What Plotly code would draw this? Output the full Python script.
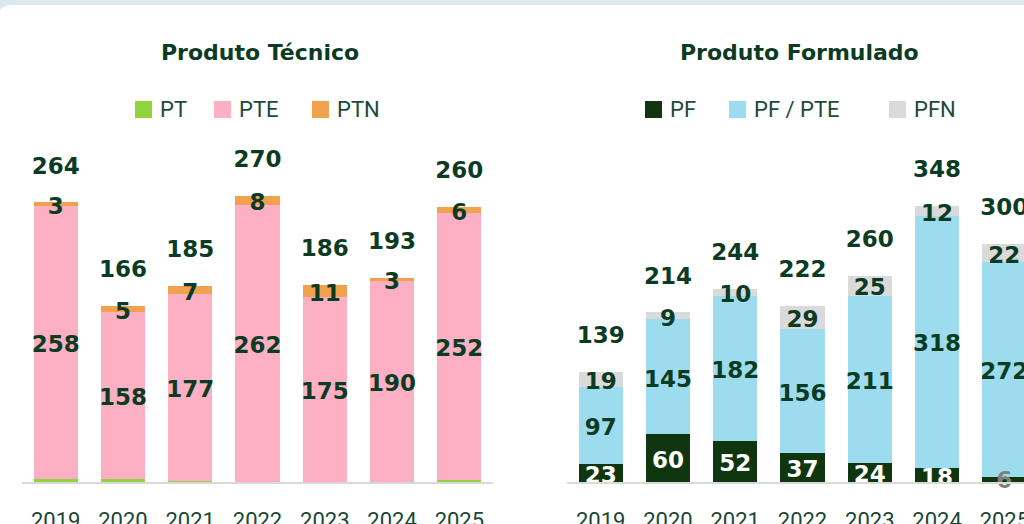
import plotly.graph_objects as go

# ---------------- data ----------------
years = ["2019", "2020", "2021", "2022", "2023", "2024", "2025"]

# Produto Técnico
pt = [3, 3, 1, 0, 0, 0, 2]
pte = [258, 158, 177, 262, 175, 190, 252]
ptn = [3, 5, 7, 8, 11, 3, 6]
pt_total = [264, 166, 185, 270, 186, 193, 260]

# Produto Formulado
pf = [23, 60, 52, 37, 24, 18, 6]
pf_pte = [97, 145, 182, 156, 211, 318, 272]
pfn = [19, 9, 10, 29, 25, 12, 22]
pf_total = [139, 214, 244, 222, 260, 348, 300]

titles = ["Produto Técnico", "Produto Formulado"]
left_names = ["PT", "PTE", "PTN"]
right_names = ["PF", "PF / PTE", "PFN"]

# ---------------- style ----------------
W, H = 1024, 524
BASE = 482                    # pixel row of the axis line
SCALE_L = 1.059               # px per unit, left chart
SCALE_R = 0.793               # px per unit, right chart
STEP = (493 - 22) / 7         # px per category
TINY_PX = 6                   # segments thinner than this get the label below

C_PT, C_PTE, C_PTN = "#8fd33f", "#fdafc4", "#f0a24e"
C_PF, C_PFPTE, C_PFN = "#10360f", "#9ddcee", "#dadada"
DARK = "#0c3b24"
LEG_TXT = "#21493a"
AXIS = "#d9d9d9"
STRIP = "#dce8ef"
GREY_LBL = "#7f7f7f"

LBL_FONT = dict(family="DejaVu Sans", size=23, color=DARK, weight="bold")

fig = go.Figure()
annotations = []


def add_bars(xa, ya, series, colors, names):
    for vals, col, nm in zip(series, colors, names):
        fig.add_trace(go.Bar(
            x=years, y=vals, name=nm, marker=dict(color=col, line=dict(width=0)),
            xaxis=xa, yaxis=ya, showlegend=False, hoverinfo="skip"))


def add_labels(xa, ya, series, show, colors, totals, scale, below_small):
    cum = [0] * len(years)
    for idx, (vals, sh, col) in enumerate(zip(series, show, colors)):
        mids = [c + v / 2 - 4 / scale for c, v in zip(cum, vals)]
        cum = [c + v for c, v in zip(cum, vals)]
        if not sh:
            continue
        texts, small_x, small_t = [], [], []
        for yr, v in zip(years, vals):
            if below_small and idx == 0 and v * scale < TINY_PX:
                texts.append("")
                small_x.append(yr)
                small_t.append(str(v))
            else:
                texts.append(str(v))
        fig.add_trace(go.Scatter(
            x=years, y=mids, text=texts, mode="text",
            textposition="middle center", cliponaxis=True,
            textfont=dict(LBL_FONT, color=col),
            xaxis=xa, yaxis=ya, showlegend=False, hoverinfo="skip"))
        if small_x:
            fig.add_trace(go.Scatter(
                x=small_x, y=[0] * len(small_x), text=small_t,
                mode="text", textposition="middle center", cliponaxis=False,
                textfont=dict(LBL_FONT, color=GREY_LBL),
                xaxis=xa, yaxis=ya, showlegend=False, hoverinfo="skip"))
    fig.add_trace(go.Scatter(
        x=years, y=[t + 34.5 / scale for t in totals],
        text=[str(t) for t in totals], mode="text",
        textposition="middle center", cliponaxis=True, textfont=LBL_FONT,
        xaxis=xa, yaxis=ya, showlegend=False, hoverinfo="skip"))


add_bars("x", "y", [pt, pte, ptn], [C_PT, C_PTE, C_PTN], left_names)
add_bars("x2", "y2", [pf, pf_pte, pfn], [C_PF, C_PFPTE, C_PFN], right_names)
add_labels("x", "y", [pt, pte, ptn], [False, True, True], [DARK, DARK, DARK],
           pt_total, SCALE_L, False)
add_labels("x2", "y2", [pf, pf_pte, pfn], [True, True, True],
           ["#ffffff", DARK, DARK], pf_total, SCALE_R, True)

xcommon = dict(showline=True, linecolor=AXIS, linewidth=2, showgrid=False,
               zeroline=False, ticks="", ticklabelstandoff=18,
               tickfont=dict(family="Roboto", size=22, color="#1b4634"),
               fixedrange=True)
ydom = [(H - BASE) / H, 1]

fig.update_layout(
    width=W, height=H,
    margin=dict(l=0, r=0, t=0, b=0, autoexpand=False),
    paper_bgcolor="#ffffff", plot_bgcolor="rgba(0,0,0,0)",
    barmode="stack", bargap=0.345,
    xaxis=dict(xcommon, domain=[22 / W, 493 / W], range=[-0.5, 6.5],
               anchor="y"),
    xaxis2=dict(xcommon, domain=[567 / W, 1.0],
                range=[-0.5, -0.5 + (W - 567) / STEP], anchor="y2"),
    yaxis=dict(domain=ydom, range=[0, BASE / SCALE_L], visible=False,
               anchor="x", fixedrange=True),
    yaxis2=dict(domain=ydom, range=[0, BASE / SCALE_R], visible=False,
                anchor="x2", fixedrange=True),
)


def px(x):
    return x / W


def py(y):
    return 1 - y / H


shapes = []

# top strip and rounded card corner
shapes.append(dict(type="rect", xref="paper", yref="paper", x0=0, x1=1,
                   y0=py(5), y1=1, fillcolor=STRIP, line=dict(width=0),
                   layer="above"))
shapes.append(dict(
    type="path", xref="paper", yref="paper", layer="above",
    path=f"M 0,{py(4)} L 0,{py(11)} Q {px(2)},{py(5)} {px(18)},{py(4.6)} "
         f"L {px(18)},{py(4)} Z",
    fillcolor=STRIP, line=dict(width=0)))

# titles
for txt, cx in zip(titles, [260, 799]):
    annotations.append(dict(
        text=txt, x=px(cx), y=py(52), xref="paper", yref="paper",
        xanchor="center", yanchor="middle", showarrow=False,
        font=dict(family="DejaVu Sans", size=22, color=DARK, weight="bold")))

# legends (squares + labels)
legend_items = [
    (left_names[0], C_PT, 135), (left_names[1], C_PTE, 214),
    (left_names[2], C_PTN, 312),
    (right_names[0], C_PF, 645), (right_names[1], C_PFPTE, 729),
    (right_names[2], C_PFN, 889),
]
for nm, col, x0 in legend_items:
    shapes.append(dict(type="rect", xref="paper", yref="paper",
                       x0=px(x0), x1=px(x0 + 17), y0=py(118), y1=py(101),
                       fillcolor=col, line=dict(width=0)))
    annotations.append(dict(
        text=nm, x=px(x0 + 23), y=py(110), xref="paper", yref="paper",
        xanchor="left", yanchor="middle", showarrow=False,
        font=dict(family="Roboto", size=22, color=LEG_TXT)))

fig.update_layout(shapes=shapes, annotations=annotations)

fig.write_html(
    "out.html",
    config={"displayModeBar": False},
    post_script="document.body.style.margin='0';"
                "document.body.style.overflow='hidden';")
